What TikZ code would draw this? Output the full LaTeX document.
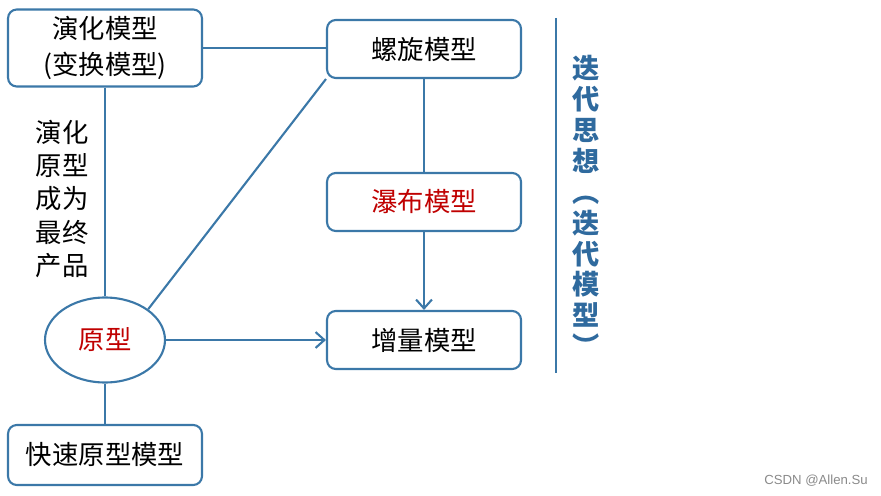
\documentclass[tikz,border=0pt]{standalone}
\usepackage{fontspec}
\setmainfont{Noto Sans CJK SC}
\newfontfamily\markfont{Liberation Sans}
\usetikzlibrary{shapes.geometric, arrows.meta}
\definecolor{itblue}{HTML}{3B78A8}
\definecolor{ittext}{HTML}{2F6A9E}
\definecolor{itred}{HTML}{C00000}
\definecolor{itgray}{HTML}{8A8A8A}

\begin{document}
\begin{tikzpicture}[x=0.02cm, y=-0.02cm,
    every node/.style={font=\fontsize{15}{19}\selectfont},
    modelbox/.style={rectangle, draw=itblue, line width=1.2pt, fill=white, rounded corners=5pt, minimum width=3.88cm, minimum height=1.16cm, align=center},
    link/.style={draw=itblue, line width=1.2pt},
    >={Straight Barb[length=5pt, width=9pt]}]
                        \useasboundingbox (0,0) rectangle (881,496);
                        \node[modelbox, minimum height=1.54cm, font=\fontsize{15}{20}\selectfont] (evo) at (105,48) {演化模型\\(变换模型)};
                        \node[modelbox] (spiral) at (424,49) {螺旋模型};
                        \node[modelbox, text=itred] (fall) at (424,202) {瀑布模型};
                        \node[modelbox] (incr) at (424,340) {增量模型};
                        \node[ellipse, draw=itblue, line width=1.2pt, minimum width=2.4cm, minimum height=1.7cm, text=itred] (proto) at (105,340) {原型};
                        \node[modelbox, minimum height=1.2cm] (rapid) at (105,455) {快速原型模型};

                        \node[align=center, font=\fontsize{15}{18.8}\selectfont] (note) at (62,199) {演化\\原型\\成为\\最终\\产品};
                        \coordinate (bartop) at (556,18);
                        \coordinate (barbot) at (556,373);
                        \draw[link] (bartop) -- (barbot);
                        \node[align=center, text=ittext, font=\fontsize{15.5}{17.6}\bfseries] (idea) at (586,206) {迭\\代\\思\\想\\︵\\迭\\代\\模\\型\\︶};

                        \draw[link] (evo.east) -- (evo.east -| spiral.west);
                        \draw[link] (evo) -- (proto);
                        \draw[link] (proto.north east) -- (spiral.south west);
                        \draw[link, ->] (proto) -- (incr);
                        \draw[link] (spiral) -- (fall);
                        \draw[link, ->] (fall) -- (incr);
                        \draw[link] (proto) -- (rapid);

                        \node[text=itgray, font=\fontsize{7.5}{9}\markfont] (mark) at (816,481) {CSDN @Allen.Su};
                    \end{tikzpicture}
\end{document}
